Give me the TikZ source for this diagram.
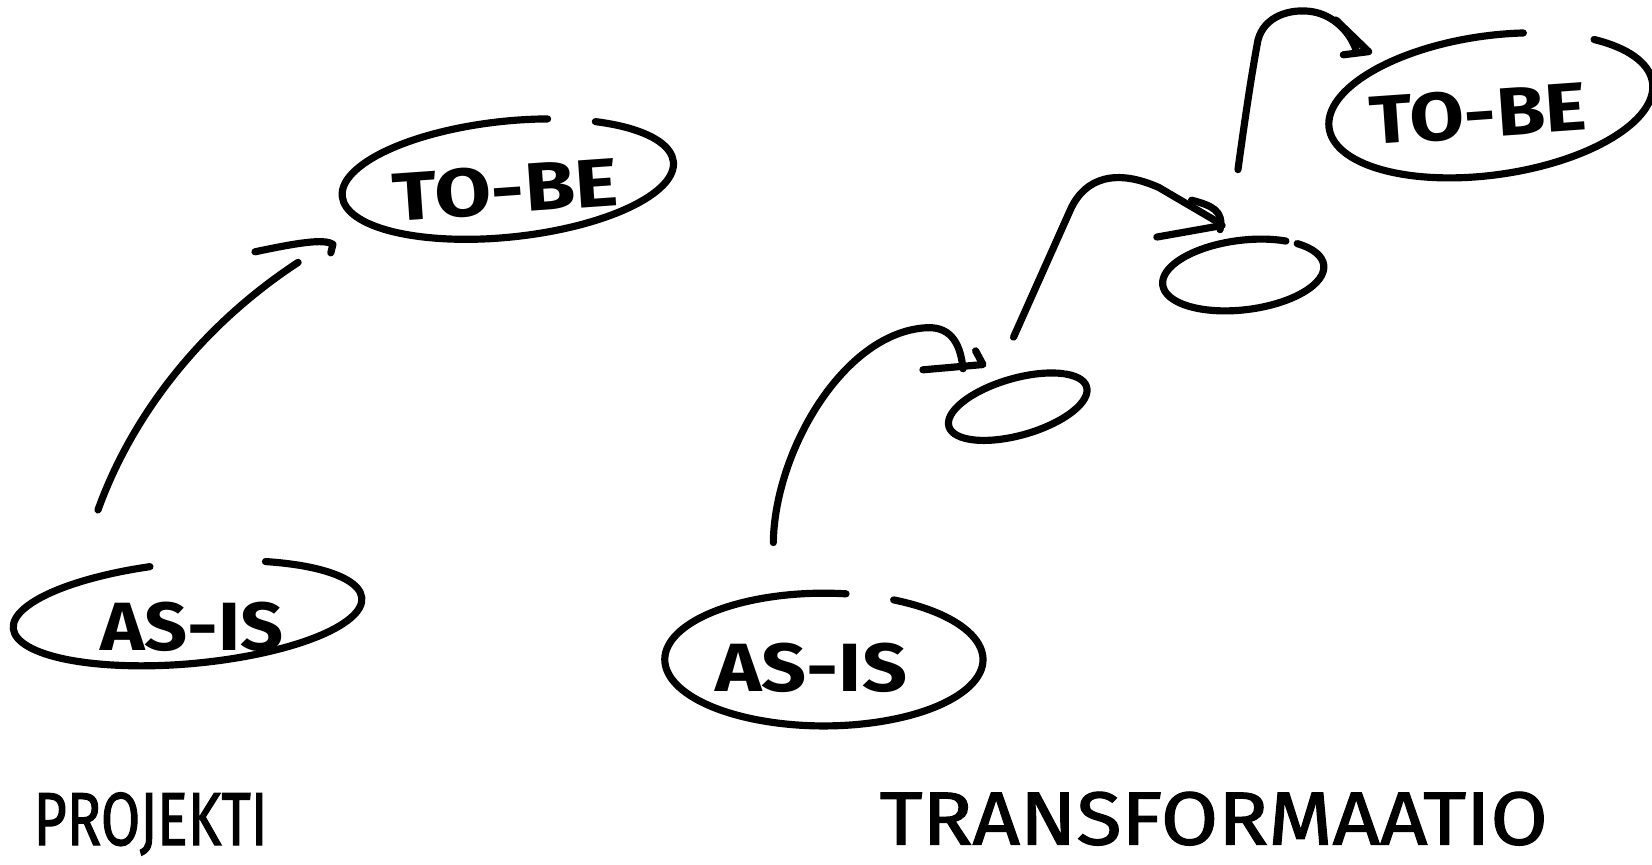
\documentclass[tikz,border=0pt]{standalone}
\usepackage{fontspec}
\usepackage{graphicx}
\setmainfont{Fira Sans}
\newfontfamily\capfont[FakeBold=1.6]{Fira Sans}
\tikzset{
  sketch/.style={line width=3.4pt, line cap=round, line join=round, black},
  lbl/.style={inner sep=0pt, font=\bfseries},
  captext/.style={inner sep=0pt, font=\capfont},
}
\newcommand\sellipse[6]{%
  \draw[sketch, shift={(#1)}, rotate=#2] (#5:#3 and #4) arc[start angle=#5, end angle=#6, x radius=#3, y radius=#4];}
\begin{document}
\begin{tikzpicture}[x=0.5pt, y=-0.5pt]
\useasboundingbox (0,0) rectangle (1568,821);
% ---- labels in ellipses
\node[lbl] (asisL) at (182,595) {\resizebox{87pt}{23pt}{AS-IS}};
\node[lbl, rotate=4] (tobeL) at (480,180) {\resizebox{107pt}{23pt}{TO-BE}};
\node[lbl] (asisR) at (770,634) {\resizebox{91pt}{23pt}{AS-IS}};
\node[lbl, rotate=4] (tobeR) at (1403,108) {\resizebox{103pt}{23pt}{TO-BE}};
% ---- captions
\node[captext] (proj) at (143,782) {\resizebox{111pt}{25pt}{PROJEKTI}};
\node[captext] (trans) at (1152,777) {\resizebox{317pt}{25pt}{TRANSFORMAATIO}};
% ---- ellipses
\sellipse{178,582}{5}{166}{48}{-62}{259}
\sellipse{482,170}{6}{158}{55}{-56}{286}
\sellipse{782,626}{0}{151}{63}{-64}{278}
\sellipse{966,386}{16}{68}{27}{-40}{318}
\sellipse{1180,261}{7}{77}{33}{-45}{305}
\sellipse{1415,100}{8}{155}{66}{-47}{285}
% ---- connector end points
\coordinate (a1s) at (93,484);
\coordinate (a1e) at (283,249);
\coordinate (a2s) at (734,515);
\coordinate (a2e) at (914,350);
\coordinate (a3s) at (962,320);
\coordinate (a3e) at (1158,212);
\coordinate (a4s) at (1175,161);
\coordinate (a4e) at (1288,50);
% ---- connectors
\draw[sketch] (a1s) .. controls (125,395) and (190,310) .. (a1e);
\draw[sketch] (242,239) .. controls (280,231) and (308,226) .. (316,232) -- (314,240);
\draw[sketch] (a2s) .. controls (735,430) and (800,315) .. (880,311) .. controls (905,310) and (912,330) .. (a2e);
\draw[sketch] (876,351) -- (933,346) -- (926,333);
\draw[sketch] (a3s) -- (1016,199) .. controls (1030,168) and (1060,160) .. (1100,178) -- (a3e);
\draw[sketch] (1098,225) -- (1160,214);
\draw[sketch] (1131,190) .. controls (1150,195) and (1162,200) .. (1158,218);
\draw[sketch] (a4s) .. controls (1182,110) and (1188,70) .. (1194,38) .. controls (1200,15) and (1225,8) .. (1245,11) .. controls (1265,14) and (1282,30) .. (a4e);
\draw[sketch] (1275,52) -- (1299,49) -- (1268,19);
\end{tikzpicture}
\end{document}
